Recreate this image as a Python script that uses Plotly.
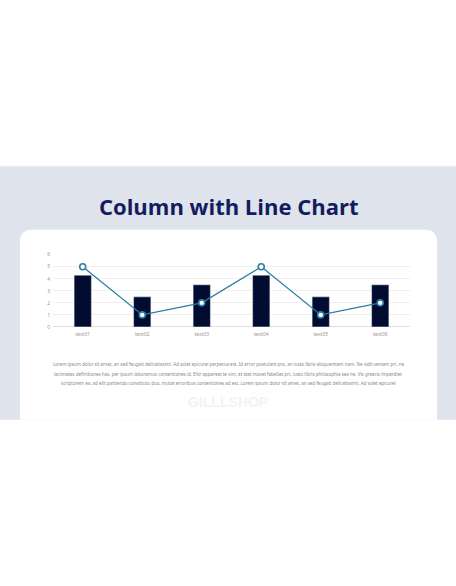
import plotly.graph_objects as go

categories = ["text01", "text02", "text03", "text04", "text05", "text06"]
column_values = [4.3, 2.5, 3.5, 4.3, 2.5, 3.5]
line_values = [5, 1, 2, 5, 1, 2]
y_ticks = [0, 1, 2, 3, 4, 5, 6]

title = "Column with Line Chart"
body_lines = [
    "Lorem ipsum dolor sit amet, an sed feugait delicatissimi. Ad solet epicurei perpetua est. Id error postulant pro, an iusto libris eloquentiam nam. Ne vidit veniam pri, ne",
    "tacimates definitiones has, per ipsum laboramus contentiones id. Elitr appareat te vim, et stet movet fabellas pri, iusto libris philosophia sea ne. Vis graecis imperdiet",
    "scriptorem ea, ad elit partiendo constituto duo, mutat erroribus contentiones ad est. Lorem ipsum dolor sit amet, an sed feugait delicatissimi. Ad solet epicurei",
]

W, H = 456, 586


def px(x):
    return x / W


def py(y):
    return 1 - y / H


fig = go.Figure()
fig.add_trace(go.Bar(x=categories, y=column_values, marker_color="#020b30",
                     width=0.29, showlegend=False))
fig.add_trace(go.Scatter(x=categories, y=line_values, mode="lines+markers",
                         line=dict(color="#2a7fa3", width=1.3),
                         marker=dict(size=6, color="white",
                                     line=dict(color="#2a7fa3", width=1.6)),
                         showlegend=False))

# grey band + white card with rounded top corners
x0, x1, y0, y1, r = px(20), px(437), py(229), py(421), 12
rx, ry = r / W, r / H
card = (f"M {x0} {y1} L {x0} {y0 - ry} Q {x0} {y0} {x0 + rx} {y0} "
        f"L {x1 - rx} {y0} Q {x1} {y0} {x1} {y0 - ry} L {x1} {y1} Z")
shapes = [
    dict(type="rect", xref="paper", yref="paper", x0=0, x1=1, y0=py(421), y1=py(165),
         fillcolor="#dfe3ec", line_width=0, layer="below"),
    dict(type="path", xref="paper", yref="paper", path=card,
         fillcolor="white", line_width=0, layer="below"),
]

annotations = [
    dict(text=f"<b>{title}</b>", x=0.5, y=py(205.5), xref="paper", yref="paper",
         showarrow=False, font=dict(family="Open Sans", size=22, color="#131c5e")),
    dict(text="GILLLSHOP", x=0.5, y=py(413), xref="paper", yref="paper",
         showarrow=False, font=dict(family="Liberation Sans", size=14, color="#f3f3f3",
                                   weight="bold")),
]
for i, line in enumerate(body_lines):
    annotations.append(dict(text=line, x=0.5, y=py(365 + i * 9.6), xref="paper", yref="paper",
                            showarrow=False,
                            font=dict(family="Noto Sans", size=4.5, color="#8a8a8a")))

fig.update_layout(
    width=W, height=H, autosize=False,
    margin=dict(l=0, r=0, t=0, b=0),
    paper_bgcolor="white", plot_bgcolor="rgba(0,0,0,0)",
    shapes=shapes, annotations=annotations,
    xaxis=dict(domain=[px(53), px(410)], showgrid=False, showline=False,
               ticks="", ticklabelstandoff=3,
               tickfont=dict(family="Noto Sans", size=5, color="#999999")),
    yaxis=dict(domain=[py(327.3), py(254.3)], range=[0, 6], tickvals=y_ticks,
               showgrid=True, gridcolor="#efefef", gridwidth=0.8,
               zeroline=True, zerolinecolor="#e0e0e0", zerolinewidth=0.8,
               ticks="", ticklabelstandoff=2,
               tickfont=dict(family="Noto Sans", size=5, color="#999999")),
    bargap=0.71,
)

fig.write_html("out.html", config={"displayModeBar": False},
               post_script="document.body.style.margin='0';")
